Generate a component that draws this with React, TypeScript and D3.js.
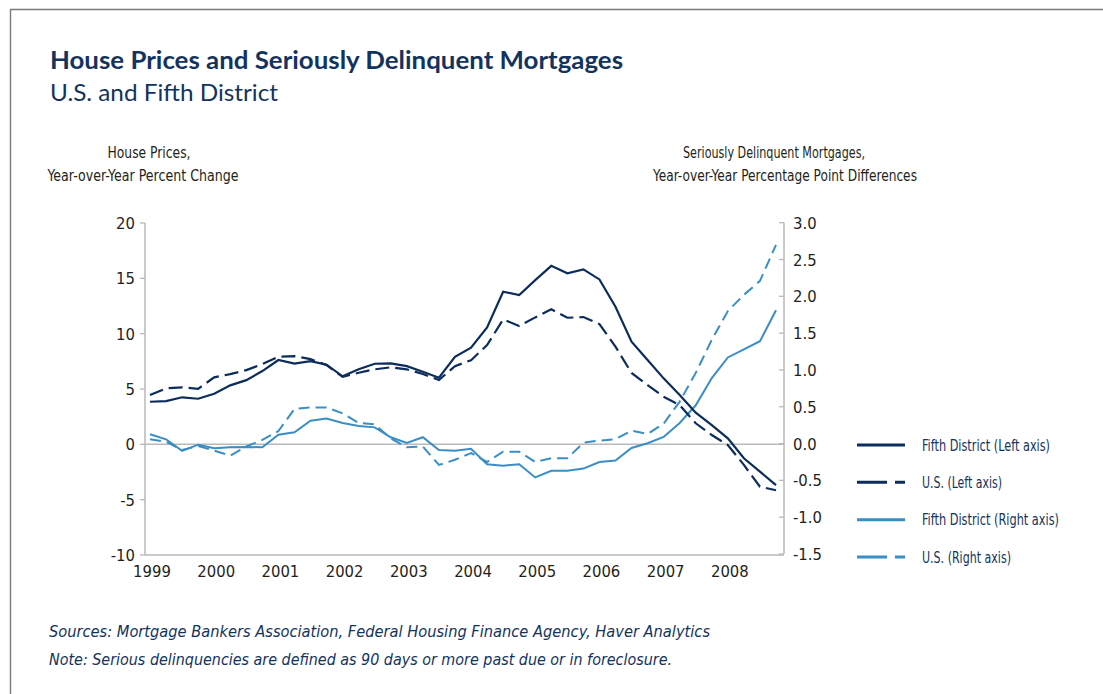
import React from "react";
import * as d3 from "d3";

const quarters: number[] = d3.range(40).map((i) => 1999 + i / 4);
const yearTicks = [1999, 2000, 2001, 2002, 2003, 2004, 2005, 2006, 2007, 2008];
const leftTicks = [20, 15, 10, 5, 0, -5, -10];
const rightTicks = [3.0, 2.5, 2.0, 1.5, 1.0, 0.5, 0.0, -0.5, -1.0, -1.5];

const fifthLeft = [
  3.85, 3.9, 4.25, 4.12, 4.57, 5.33, 5.8, 6.62, 7.62, 7.3,
  7.52, 7.2, 6.15, 6.78, 7.28, 7.31, 7.07, 6.56, 6.02, 7.91,
  8.73, 10.57, 13.79, 13.49, 14.84, 16.13, 15.45, 15.81, 14.9, 12.43,
  9.27, 7.62, 5.96, 4.45, 2.86, 1.74, 0.54, -1.26, -2.47, -3.68,
];
const usLeft = [
  4.45, 5.06, 5.15, 5.02, 6.05, 6.35, 6.71, 7.25, 7.91, 7.97,
  7.7, 7.16, 6.1, 6.47, 6.78, 6.96, 6.78, 6.35, 5.81, 7.07,
  7.6, 8.97, 11.29, 10.69, 11.47, 12.2, 11.44, 11.5, 10.87, 8.82,
  6.45, 5.36, 4.3, 3.55, 1.9, 0.84, -0.06, -1.86, -3.83, -4.15,
];
const fifthRight = [
  0.126, 0.058, -0.1, -0.015, -0.064, -0.05, -0.046, -0.05, 0.12, 0.153,
  0.31, 0.34, 0.28, 0.24, 0.22, 0.086, 0.01, 0.086, -0.087, -0.096,
  -0.07, -0.28, -0.3, -0.28, -0.46, -0.37, -0.37, -0.34, -0.25, -0.23,
  -0.06, 0.004, 0.09, 0.28, 0.52, 0.89, 1.17, 1.28, 1.39, 1.81,
];
const usRight = [
  0.058, 0.026, -0.087, -0.033, -0.096, -0.164, -0.04, 0.05, 0.17, 0.47,
  0.49, 0.49, 0.41, 0.28, 0.26, 0.07, -0.05, -0.04, -0.29, -0.22,
  -0.13, -0.25, -0.11, -0.11, -0.25, -0.2, -0.2, 0.012, 0.04, 0.06,
  0.175, 0.13, 0.27, 0.57, 0.96, 1.41, 1.8, 2.02, 2.21, 2.7,
];

const legendLabels = [
  "Fifth District (Left axis)",
  "U.S. (Left axis)",
  "Fifth District (Right axis)",
  "U.S. (Right axis)",
];
const legendWidths = [128, 80, 137, 89];

const NAVY = "#0c2d5b";
const BLUE = "#3a8ec6";
const TITLE = "#13335f";
const AXIS = "#b9b9b9";
const TEXT = "#231f20";
const COND = "'Liberation Sans Narrow', 'DejaVu Sans Condensed', 'Roboto Condensed', sans-serif";
const HUM = "Lato, 'Open Sans', sans-serif";

export default function App() {
  const x = d3.scaleLinear().domain([1999, 2008.75]).range([150, 776]);
  const yL = d3.scaleLinear().domain([-10, 20]).range([555, 223]);
  const yR = d3.scaleLinear().domain([-1.5, 3.0]).range([554, 222.7]);
  const axL = 145;
  const axR = 784;

  const lineL = d3
    .line<number>()
    .x((_, i) => x(quarters[i]))
    .y((d) => yL(d));
  const lineR = d3
    .line<number>()
    .x((_, i) => x(quarters[i]))
    .y((d) => yR(d));

  const series = [
    { d: lineR(usRight), color: BLUE, dash: "11,6", w: 2 },
    { d: lineR(fifthRight), color: BLUE, dash: undefined, w: 2 },
    { d: lineL(usLeft), color: NAVY, dash: "14,6", w: 2.2 },
    { d: lineL(fifthLeft), color: NAVY, dash: undefined, w: 2.2 },
  ];

  const legendStyles = [
    { color: NAVY, dash: undefined, w: 3 },
    { color: NAVY, dash: "30,8", w: 3 },
    { color: BLUE, dash: undefined, w: 3 },
    { color: BLUE, dash: "30,8", w: 3 },
  ];
  const legendY = d3.scalePoint<number>().domain([0, 1, 2, 3]).range([445, 557]);

  return (
    <svg
      width={1103}
      height={694}
      style={{ position: "absolute", left: 0, top: 0, background: "#fff" }}
    >
      <rect x={0} y={0} width={1103} height={694} fill="#fff" />
      <path d="M10.5,700 L10.5,9.5 L1110,9.5" fill="none" stroke="#7a7a7a" strokeWidth={1.4} />

      <text x={50} y={69} fill={TITLE} fontFamily={HUM} fontWeight={700} fontSize={25}
        textLength={573} lengthAdjust="spacingAndGlyphs">
        House Prices and Seriously Delinquent Mortgages
      </text>
      <text x={50} y={101} fill={TITLE} fontFamily={HUM} fontSize={23}
        textLength={228} lengthAdjust="spacingAndGlyphs">
        U.S. and Fifth District
      </text>

      <g fontFamily={COND} fontSize={15.5} fill={TEXT} textAnchor="middle">
        <text x={axL + 4} y={158} textLength={83} lengthAdjust="spacingAndGlyphs">House Prices,</text>
        <text x={axL - 2} y={181} textLength={191} lengthAdjust="spacingAndGlyphs">Year-over-Year Percent Change</text>
        <text x={axR - 10} y={158} textLength={182} lengthAdjust="spacingAndGlyphs">Seriously Delinquent Mortgages,</text>
        <text x={axR + 1} y={181} textLength={264} lengthAdjust="spacingAndGlyphs">Year-over-Year Percentage Point Differences</text>
      </g>

      {/* axes */}
      <line x1={axL} x2={axL} y1={yL(20)} y2={yL(-10)} stroke={AXIS} strokeWidth={1.5} />
      <line x1={axR} x2={axR} y1={yR(3)} y2={yR(-1.5)} stroke={AXIS} strokeWidth={1.5} />
      <line x1={axL} x2={axR} y1={yL(-10)} y2={yL(-10)} stroke={AXIS} strokeWidth={1.5} />
      <line x1={axL} x2={axR} y1={yL(0)} y2={yL(0)} stroke={AXIS} strokeWidth={1.5} />

      <g fontFamily={COND} fontSize={16.5} fill={TEXT}>
        {leftTicks.map((t) => (
          <g key={"l" + t}>
            <line x1={axL - 5} x2={axL} y1={yL(t)} y2={yL(t)} stroke={AXIS} strokeWidth={1.3} />
            <text x={axL - 10} y={yL(t) + 6} textAnchor="end">{t}</text>
          </g>
        ))}
        {rightTicks.map((t) => (
          <g key={"r" + t}>
            <line x1={axR - 5} x2={axR} y1={yR(t)} y2={yR(t)} stroke={AXIS} strokeWidth={1.3} />
            <text x={axR + 9} y={yR(t) + 6} textAnchor="start">{t.toFixed(1)}</text>
          </g>
        ))}
        {yearTicks.map((yr) => (
          <text key={"x" + yr} x={x(yr) + 2} y={577} textAnchor="middle">{yr}</text>
        ))}
      </g>

      {series.map((s, i) => (
        <path key={i} d={s.d || ""} fill="none" stroke={s.color} strokeWidth={s.w}
          strokeDasharray={s.dash} strokeLinejoin="miter" />
      ))}

      <g fontFamily={COND} fontSize={16.5} fill={TITLE}>
        {legendLabels.map((lab, i) => (
          <g key={lab}>
            <line x1={857} x2={905} y1={legendY(i)!} y2={legendY(i)!} stroke={legendStyles[i].color}
              strokeWidth={legendStyles[i].w} strokeDasharray={legendStyles[i].dash} />
            <text x={922} y={(legendY(i) as number) + 5.5} textLength={legendWidths[i]}
              lengthAdjust="spacingAndGlyphs">{lab}</text>
          </g>
        ))}
      </g>

      <g fontFamily={COND} fontSize={16.5} fill={TITLE} fontStyle="italic">
        <text x={49} y={637} textLength={661} lengthAdjust="spacingAndGlyphs">
          Sources: Mortgage Bankers Association, Federal Housing Finance Agency, Haver Analytics
        </text>
        <text x={49} y={665} textLength={623} lengthAdjust="spacingAndGlyphs">
          Note: Serious delinquencies are defined as 90 days or more past due or in foreclosure.
        </text>
      </g>
    </svg>
  );
}
